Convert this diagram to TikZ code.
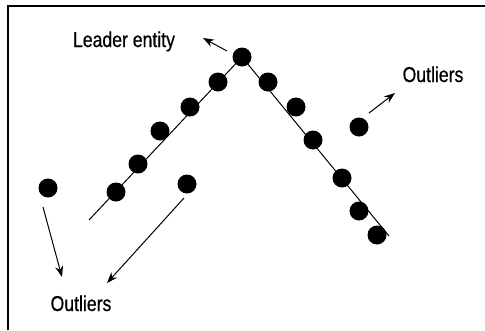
\documentclass[tikz,border=0pt]{standalone}
\usepackage{fontspec}
\newfontfamily\condfont[FakeStretch=0.82,FakeBold=0.6]{Liberation Sans}
\usetikzlibrary{arrows.meta}
\begin{document}
\begin{tikzpicture}[x=1pt,y=-1pt,
  dot/.style={circle,fill=black,inner sep=0pt,minimum size=19pt},
  lbl/.style={font=\condfont\fontsize{21.5}{24}\selectfont,inner sep=0pt,anchor=base},
  trend/.style={line width=1pt},
  arr/.style={line width=1pt,-{Stealth[length=11pt,width=8pt]}}]
\useasboundingbox (0,0) rectangle (485,330);
\draw[line width=1.6pt] (8,330) -- (8,6) -- (485,6);
% trend lines
\coordinate (ls) at (89,220);
\coordinate (pk) at (242,57);
\coordinate (re) at (389,236);
\draw[trend] (ls) -- (pk) -- (re);
% dots on left branch
\node[dot] (d0) at (242,57) {};
\node[dot] (l1) at (218,82) {};
\node[dot] (l2) at (190,107) {};
\node[dot] (l3) at (160,131) {};
\node[dot] (l4) at (138,164) {};
\node[dot] (l5) at (116,192) {};
% dots on right branch
\node[dot] (r1) at (268,82) {};
\node[dot] (r2) at (296,107) {};
\node[dot] (r3) at (313,140) {};
\node[dot] (r4) at (342,178) {};
\node[dot] (r5) at (359,211) {};
\node[dot] (r6) at (377,235) {};
% outliers
\node[dot] (o1) at (48,188) {};
\node[dot] (o2) at (187,184) {};
\node[dot] (o3) at (359,127) {};
% labels
\node[lbl] (lead) at (124,47) {Leader entity};
\node[lbl] (outr) at (433,82) {Outliers};
\node[lbl] (outb) at (81,311) {Outliers};
% arrows
\coordinate (a1s) at (227,51);
\coordinate (a1e) at (203,38);
\draw[arr] (a1s) -- (a1e);
\coordinate (a2s) at (369,113);
\coordinate (a2e) at (395,93);
\draw[arr] (a2s) -- (a2e);
\coordinate (a3s) at (43,207);
\coordinate (a3e) at (62,277);
\draw[arr] (a3s) -- (a3e);
\coordinate (a4s) at (184,198);
\coordinate (a4e) at (107,283);
\draw[arr] (a4s) -- (a4e);
\end{tikzpicture}
\end{document}
